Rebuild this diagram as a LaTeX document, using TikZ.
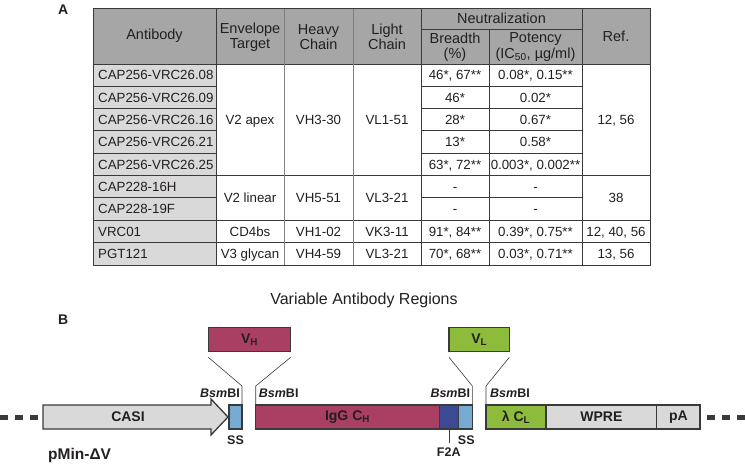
\documentclass[tikz,border=0pt]{standalone}
\usepackage{fontspec}
\setmainfont{Liberation Sans}
\usetikzlibrary{positioning}
\definecolor{gridgray}{HTML}{3A3A3A}
\definecolor{softgray}{HTML}{808080}
\definecolor{headgray}{HTML}{A6A6A6}
\definecolor{cellgray}{HTML}{D9D9D9}
\definecolor{igmag}{HTML}{A94064}
\definecolor{f2ablue}{HTML}{3B4A92}
\definecolor{ssblue}{HTML}{75AAD2}
\definecolor{lgreen}{HTML}{8DBB3C}
\definecolor{txtdark}{HTML}{231F20}

\begin{document}
\begin{tikzpicture}[x=1pt, y=-1pt,
    every node/.style={inner sep=0pt, text=txtdark},
    cell/.style={font=\fontsize{13.3}{15}\selectfont},
    head/.style={align=center, font=\fontsize{14.5}{15.5}\selectfont},
    rule/.style={draw=gridgray, line width=1pt},
    seg/.style={draw=gridgray, line width=1.3pt, outer sep=0pt, minimum height=24pt,
        font=\bfseries\fontsize{14}{16}\selectfont},
    lab/.style={font=\bfseries\fontsize{12.5}{14}\selectfont},
    ins/.style={draw=gridgray, line width=0.6pt}]
    \useasboundingbox (0,0) rectangle (745,464);

    % panel A
    \node[font=\bfseries\fontsize{14}{16}\selectfont, anchor=north west] (pa) at (58,5) {A};
    \fill[headgray] (93,8) rectangle (650,64);
    \fill[cellgray] (93,64) rectangle (216,265);
    \foreach \i in {1,...,8} {
        \draw[rule] (93,{64+22.33*\i}) -- (216,{64+22.33*\i});
        \draw[rule] (421,{64+22.33*\i}) -- (582,{64+22.33*\i});
    }
    \foreach \i in {5,7,8}
        \draw[rule] (216,{64+22.33*\i}) -- (650,{64+22.33*\i});
    \draw[rule] (93,64) -- (650,64);
    \draw[rule] (421,29) -- (582,29);
    \foreach \x in {284,353}
        \draw[rule, draw=softgray] (\x,8) -- (\x,265);
    \foreach \x in {216,421,582}
        \draw[rule] (\x,8) -- (\x,265);
    \draw[rule] (489,29) -- (489,265);
    \draw[rule] (93,8) rectangle (650,265);

    \node[head] (hab) at (154.5,36) {Antibody};
    \node[head] (henv) at (250,37) {Envelope\\Target};
    \node[head] (hhc) at (318.5,37) {Heavy\\Chain};
    \node[head] (hlc) at (387,37) {Light\\Chain};
    \node[head] (hneu) at (501.5,18.5) {Neutralization};
    \node[head] (hbr) at (455,47) {Breadth\\(\%)};
    \node[head] (hpo) at (535.5,47) {Potency\\(IC\textsubscript{50}, µg/ml)};
    \node[head] (href) at (616,36) {Ref.};

    \foreach \name/\br/\po [count=\i] in {
        CAP256-VRC26.08/{46*, 67**}/{0.08*, 0.15**},
        CAP256-VRC26.09/{46*}/{0.02*},
        CAP256-VRC26.16/{28*}/{0.67*},
        CAP256-VRC26.21/{13*}/{0.58*},
        CAP256-VRC26.25/{63*, 72**}/{0.003*, 0.002**},
        CAP228-16H/-/-,
        CAP228-19F/-/-,
        VRC01/{91*, 84**}/{0.39*, 0.75**},
        PGT121/{70*, 68**}/{0.03*, 0.71**}} {
        \node[cell, anchor=base west] (ab\i) at (98,{64+22.33*(\i-0.5)+4.7}) {\name};
        \node[cell, anchor=base] (br\i) at (455,{64+22.33*(\i-0.5)+4.7}) {\br};
        \node[cell, anchor=base] (po\i) at (535.5,{64+22.33*(\i-0.5)+4.7}) {\po};
    }

    \foreach \env/\hc/\lc/\rf/\r [count=\k] in {
        V2 apex/VH3-30/VL1-51/{12, 56}/2.5,
        V2 linear/VH5-51/VL3-21/38/6,
        CD4bs/VH1-02/VK3-11/{12, 40, 56}/7.5,
        V3 glycan/VH4-59/VL3-21/{13, 56}/8.5} {
        \node[cell, anchor=base] (env\k) at (250,{64+22.33*\r+4.7}) {\env};
        \node[cell, anchor=base] (hc\k) at (318.5,{64+22.33*\r+4.7}) {\hc};
        \node[cell, anchor=base] (lc\k) at (387,{64+22.33*\r+4.7}) {\lc};
        \node[cell, anchor=base] (rf\k) at (616,{64+22.33*\r+4.7}) {\rf};
    }

    % panel B
    \node[font=\fontsize{16}{18}\selectfont] (title) at (364,300) {Variable Antibody Regions};
    \node[font=\bfseries\fontsize{14}{16}\selectfont, anchor=north west] (pb) at (58,315) {B};

    \fill[cellgray, draw=gridgray, line width=1.3pt]
        (43,405) -- (211,405) -- (211,399) -- (228,417) -- (211,435) -- (211,429) -- (43,429) -- cycle;
    \node[seg, draw=none] (casi) at (128,417) {CASI};
    \node[seg, fill=ssblue, minimum width=13pt] (ss1) at (235.5,417) {};
    \node[seg, fill=igmag, minimum width=183.6pt] (igg) at (347.5,417) {IgG C\textsubscript{H}};
    \node[seg, fill=f2ablue, minimum width=19pt, right=0pt of igg] (f2a) {};
    \node[seg, fill=ssblue, minimum width=14pt, right=0pt of f2a] (ss2) {};
    \node[seg, fill=lgreen, minimum width=60pt] (lcl) at (516,417) {λ C\textsubscript{L}};
    \node[seg, fill=cellgray, minimum width=110.7pt, right=0pt of lcl] (wpre) {WPRE};
    \node[seg, fill=cellgray, minimum width=43.3pt, right=0pt of wpre] (pA) {pA};

    \coordinate (dl) at (0,417);
    \coordinate (dr) at (745,417);
    \draw[gridgray, line width=5pt, dash pattern=on 8pt off 7pt] (dl) -- ++(38,0);
    \draw[gridgray, line width=5pt, dash pattern=on 8pt off 7pt] (dr) -- ++(-38,0);

    \node[seg, fill=igmag, minimum width=82.4pt] (vh) at (249.5,339.7) {V\textsubscript{H}};
    \node[seg, fill=lgreen, minimum width=60.3pt] (vl) at (479.2,339.7) {V\textsubscript{L}};

    \draw[ins] (ss1.north east) -- ++(0,-19) -- ([yshift=-5.6pt]vh.south west);
    \draw[ins] (igg.north west) -- ++(0,-19) -- ([yshift=-5.6pt]vh.south east);
    \draw[ins] (ss2.north east) -- ++(0,-19) -- ([yshift=-5.6pt]vl.south west);
    \draw[ins] (lcl.north west) -- ++(0,-19) -- ([yshift=-5.6pt]vl.south east);

    \node[lab, anchor=base east] (bsm1) at ([xshift=-2pt,yshift=8pt]ss1.north east) {\textit{Bsm}BI};
    \node[lab, anchor=base west] (bsm2) at ([xshift=3pt,yshift=8pt]igg.north west) {\textit{Bsm}BI};
    \node[lab, anchor=base east] (bsm3) at ([xshift=-2pt,yshift=8pt]ss2.north east) {\textit{Bsm}BI};
    \node[lab, anchor=base west] (bsm4) at ([xshift=4pt,yshift=8pt]lcl.north west) {\textit{Bsm}BI};

    \node[lab, below=7pt of ss1] (sslab1) {SS};
    \node[lab, below=7pt of ss2, xshift=1pt] (sslab2) {SS};
    \coordinate (f2aend) at ([yshift=-14pt]f2a.south);
    \draw[ins] (f2a.south) -- (f2aend);
    \node[lab, below=5pt of f2aend] (f2alab) {F2A};
    \node[font=\bfseries\fontsize{15.5}{18}\selectfont, anchor=west] (vec) at (48,455) {pMin-ΔV};
\end{tikzpicture}
\end{document}
